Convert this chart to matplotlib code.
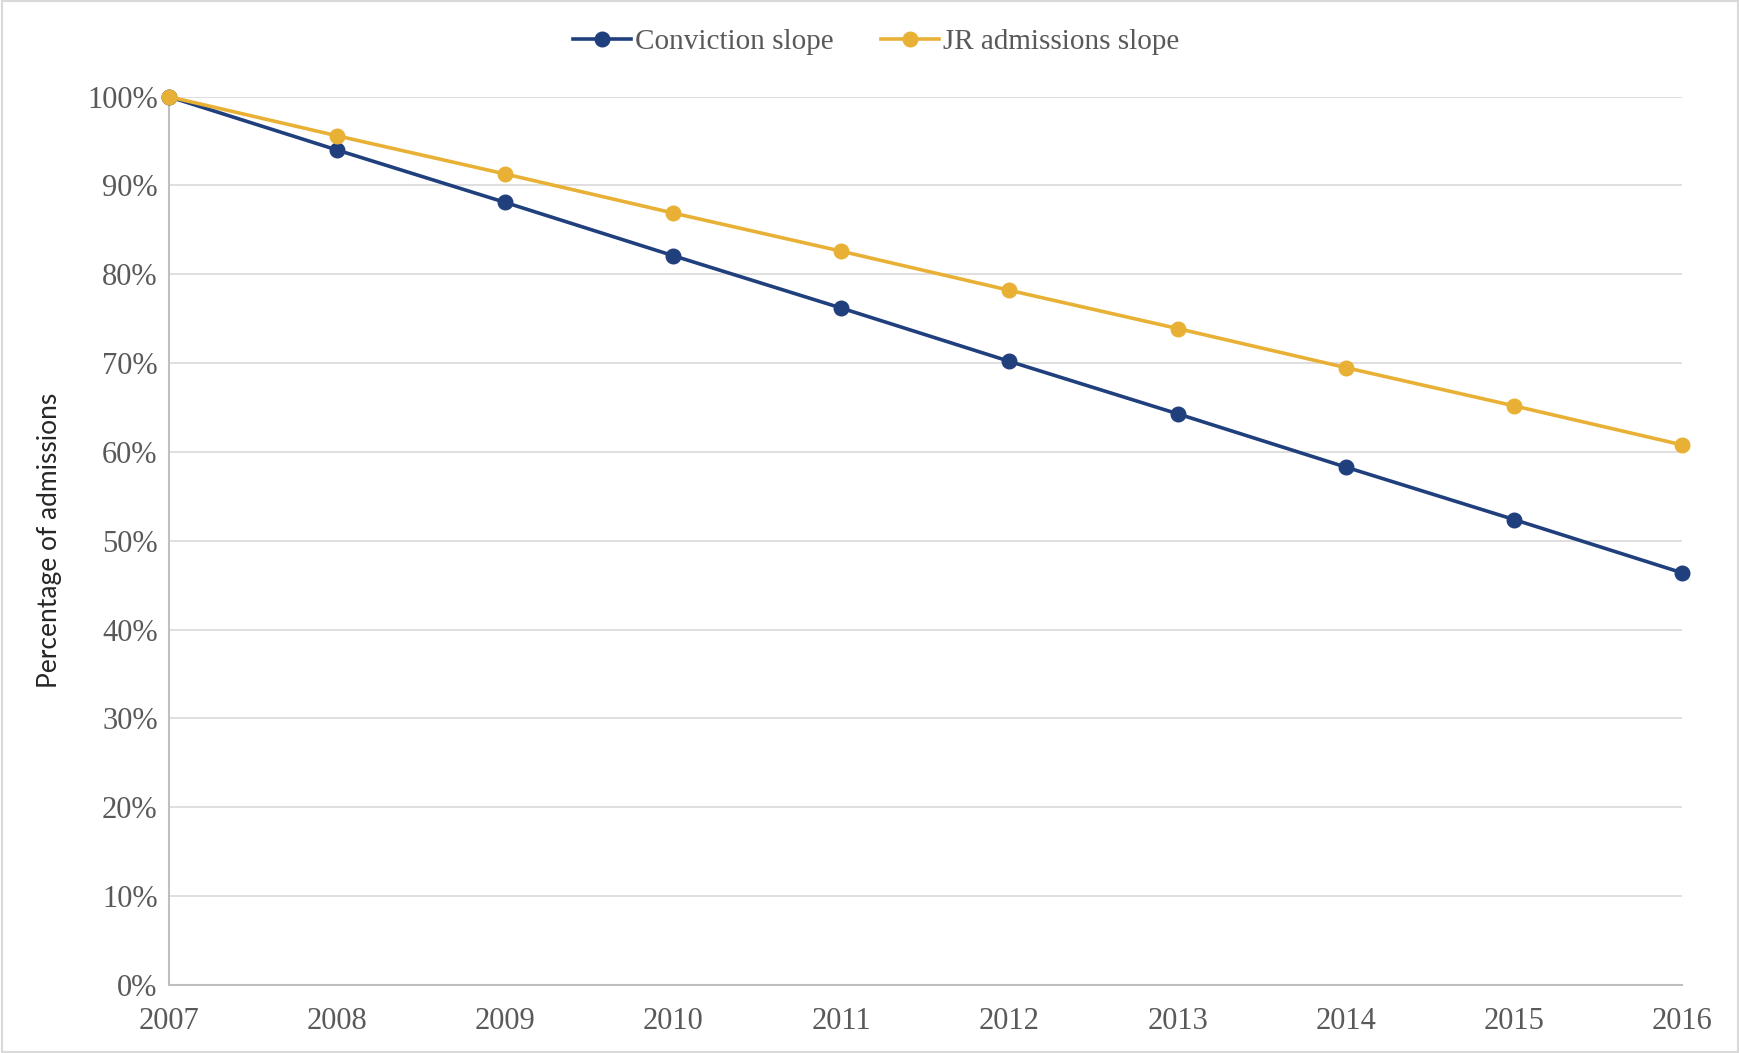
import matplotlib
matplotlib.use("Agg")
import matplotlib.pyplot as plt
from matplotlib.patches import Rectangle
from matplotlib.ticker import FuncFormatter

years = [2007, 2008, 2009, 2010, 2011, 2012, 2013, 2014, 2015, 2016]
conviction_slope = [100.0, 94.0, 88.1, 82.1, 76.2, 70.2, 64.3, 58.3, 52.4, 46.4]
jr_admissions_slope = [100.0, 95.6, 91.3, 86.9, 82.6, 78.2, 73.9, 69.5, 65.2, 60.8]
y_ticks = [0, 10, 20, 30, 40, 50, 60, 70, 80, 90, 100]

navy = "#203F7D"
gold = "#E8B135"
text_grey = "#595959"
serif = ["Liberation Serif", "DejaVu Serif"]

fig = plt.figure(figsize=(17.4, 10.53), dpi=100)
ax = fig.add_axes([0.097, 0.0646, 0.8697, 0.8436])

ax.plot(years, conviction_slope, color=navy, lw=2.6, marker="o", ms=10.5,
        label="Conviction slope", clip_on=False, zorder=3)
ax.plot(years, jr_admissions_slope, color=gold, lw=2.6, marker="o", ms=10.5,
        label="JR admissions slope", clip_on=False, zorder=4)

ax.set_xlim(years[0], years[-1])
ax.set_ylim(0, 100)
ax.set_xticks(years)
ax.set_yticks(y_ticks)
ax.yaxis.set_major_formatter(FuncFormatter(lambda v, _: f"{v:.0f}%"))

ax.grid(axis="y", color="#D9D9D9", lw=1.2)
ax.set_axisbelow(True)
for side in ("top", "right"):
    ax.spines[side].set_visible(False)
for side in ("left", "bottom"):
    ax.spines[side].set_color("#BFBFBF")
    ax.spines[side].set_linewidth(1.5)

ax.tick_params(axis="both", length=0, colors=text_grey, labelsize=22)
ax.tick_params(axis="x", pad=16)
ax.tick_params(axis="y", pad=8)
for lbl in ax.get_xticklabels() + ax.get_yticklabels():
    lbl.set_family(serif)

ax.set_ylabel("Percentage of admissions", family=["Lato", "DejaVu Sans"],
              fontsize=19, color="#262626", labelpad=18)

leg = fig.legend(loc="center", bbox_to_anchor=(0.5035, 0.960), ncol=2,
                 frameon=False, prop={"family": serif, "size": 21},
                 handlelength=2.0, columnspacing=1.6, handletextpad=0.15)
for t in leg.get_texts():
    t.set_color(text_grey)

fig.patches.append(Rectangle((0.001, 0.001), 0.998, 0.998, transform=fig.transFigure,
                             fill=False, edgecolor="#D9D9D9", lw=1.5))

fig.savefig("out.png", dpi=100, facecolor="white")
